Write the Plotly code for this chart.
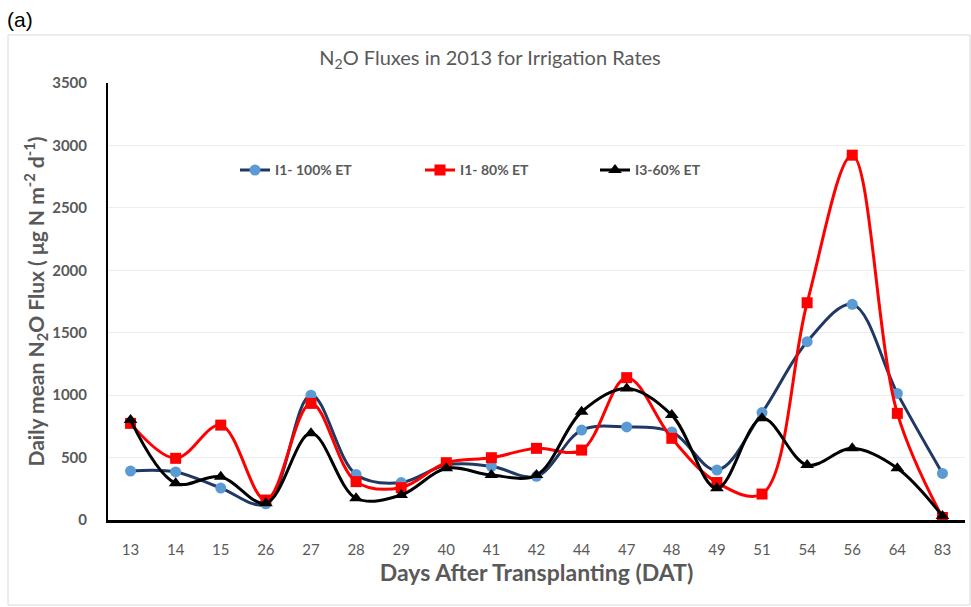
import plotly.graph_objects as go

days = ["13", "14", "15", "26", "27", "28", "29", "40", "41", "42", "44", "47", "48", "49", "51", "54", "56", "64", "83"]
i1_100 = [392, 385, 256, 130, 1000, 365, 300, 440, 430, 350, 720, 745, 705, 400, 860, 1428, 1727, 1014, 373]
i1_80 = [774, 494, 760, 160, 934, 307, 259, 459, 499, 574, 560, 1140, 654, 300, 208, 1740, 2922, 854, 20]
i3_60 = [800, 294, 347, 134, 694, 174, 200, 414, 360, 360, 867, 1054, 840, 254, 814, 440, 574, 414, 32]

names = ["I1- 100% ET", "I1- 80% ET", "I3-60% ET"]

FONT = "Lato, sans-serif"
GRAY = "#595959"

fig = go.Figure()
fig.add_trace(go.Scatter(
    x=days, y=i1_100, name=names[0], mode="lines+markers", legend="legend",
    line=dict(color="#203864", width=3, shape="spline", smoothing=1),
    marker=dict(symbol="circle", size=11, color="#5B9BD5", line=dict(width=0)),
))
fig.add_trace(go.Scatter(
    x=days, y=i1_80, name=names[1], mode="lines+markers", legend="legend2",
    line=dict(color="#FF0000", width=3, shape="spline", smoothing=1),
    marker=dict(symbol="square", size=11, color="#FF0000", line=dict(width=0)),
))
fig.add_trace(go.Scatter(
    x=days, y=i3_60, name=names[2], mode="lines+markers", legend="legend3",
    line=dict(color="#000000", width=3, shape="spline", smoothing=1),
    marker=dict(symbol="triangle-up", size=12, color="#000000", line=dict(width=0)),
))

leg_common = dict(orientation="h", y=0.80, xanchor="left", yanchor="middle",
                  bgcolor="rgba(0,0,0,0)", itemwidth=30,
                  font=dict(size=14, color=GRAY, family=FONT, weight="bold"))

fig.update_layout(
    width=971, height=607,
    margin=dict(l=108, r=6, t=83, b=87, autoexpand=False),
    paper_bgcolor="white", plot_bgcolor="white",
    font=dict(family=FONT, color=GRAY),
    title=dict(text="N<sub>2</sub>O Fluxes in 2013 for Irrigation Rates",
               x=490 / 971, xref="container", xanchor="center", y=(607 - 58) / 607, yanchor="middle",
               font=dict(size=20, color=GRAY, family=FONT)),
    legend=dict(x=(235 - 108) / 857, **leg_common),
    legend2=dict(x=(420 - 108) / 857, **leg_common),
    legend3=dict(x=(595 - 108) / 857, **leg_common),
    showlegend=True,
)

fig.update_xaxes(
    type="category", showgrid=False, showline=True, linecolor="black", linewidth=2.5,
    ticks="", ticklabelstandoff=14, tickfont=dict(size=15, color=GRAY, family=FONT),
    title=dict(text="<b>Days After Transplanting (DAT)</b>", font=dict(size=23, color=GRAY, family=FONT), standoff=9),
    range=[-0.5, 18.5], zeroline=False, automargin=False,
)
fig.update_yaxes(
    range=[0, 3500], dtick=500, showgrid=True, gridcolor="#EDEDED", gridwidth=1,
    showline=True, linecolor="black", linewidth=2, ticks="", ticklabelstandoff=16,
    tickfont=dict(size=15, color=GRAY, family=FONT, weight="bold"), zeroline=False,
    title=dict(text="<b>Daily mean N<sub>2</sub>O Flux ( μg N m<sup>-2</sup> d<sup>-1</sup>)</b>",
               font=dict(size=21, color=GRAY, family=FONT), standoff=2),
    automargin=False,
)

# outer chart border
fig.add_shape(type="rect", xref="paper", yref="paper",
              x0=(8 - 108) / 857, x1=(970 - 108) / 857,
              y0=(520 - 605) / 437, y1=(520 - 35) / 437,
              line=dict(color="#D9D9D9", width=1), fillcolor="rgba(0,0,0,0)", layer="below")

fig.add_annotation(text="(a)", xref="paper", yref="paper",
                   x=(5 - 108) / 857, y=(520 - 20) / 437, xanchor="left", yanchor="middle",
                   showarrow=False, font=dict(size=21, color="black", family="Liberation Sans, sans-serif"))

fig.write_html("out.html", config={"displayModeBar": False},
               post_script="document.body.style.margin='0';document.body.style.overflow='hidden';")
